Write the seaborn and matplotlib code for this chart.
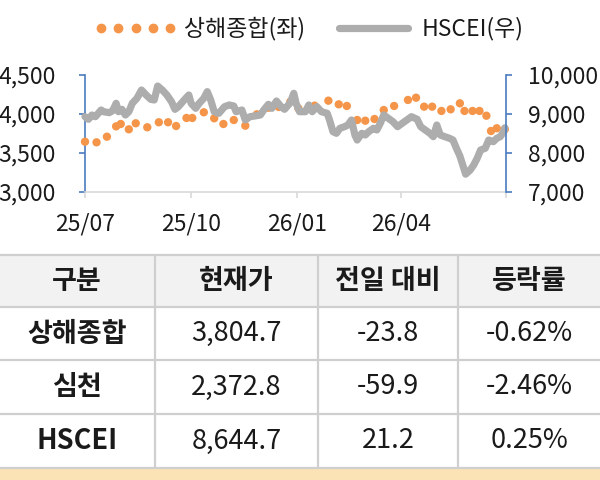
import pandas as pd
import matplotlib.pyplot as plt
import seaborn as sns
from matplotlib.lines import Line2D

# Shanghai Composite (left axis), sampled points
sh_dates = ['2025-07-01', '2025-07-11', '2025-07-20', '2025-07-28', '2025-08-01', '2025-08-08',
            '2025-08-14', '2025-08-24', '2025-09-03', '2025-09-11', '2025-09-18', '2025-09-27',
            '2025-10-02', '2025-10-12', '2025-10-21', '2025-10-29', '2025-11-07', '2025-11-17',
            '2025-11-27', '2025-12-07', '2025-12-16', '2025-12-26', '2026-01-02', '2026-01-16',
            '2026-01-28', '2026-02-06', '2026-02-13', '2026-02-22', '2026-03-01', '2026-03-09',
            '2026-03-17', '2026-03-26', '2026-04-07', '2026-04-14', '2026-04-21', '2026-04-28',
            '2026-05-06', '2026-05-14', '2026-05-22', '2026-05-26', '2026-06-02', '2026-06-08',
            '2026-06-14', '2026-06-18', '2026-06-23', '2026-06-30']
sh_values = [3645, 3637, 3709, 3842, 3872, 3804,
             3881, 3830, 3894, 3894, 3846, 3949,
             3949, 4022, 3945, 3872, 3923, 3850,
             3996, 4080, 4090, 4158, 4073, 4107,
             4171, 4124, 4103, 3923, 3914, 3936,
             4051, 4103, 4180, 4209, 4094, 4094,
             4039, 4060, 4137, 4039, 4039, 4039,
             3978, 3782, 3817, 3805]

# HSCEI (right axis)
hs_dates = ['2025-07-01', '2025-07-04', '2025-07-07', '2025-07-10', '2025-07-15', '2025-07-17',
            '2025-07-22', '2025-07-25', '2025-07-28', '2025-07-30', '2025-08-02', '2025-08-05',
            '2025-08-08', '2025-08-11', '2025-08-15', '2025-08-19', '2025-08-23', '2025-08-27',
            '2025-08-30', '2025-09-02', '2025-09-06', '2025-09-10', '2025-09-14', '2025-09-17',
            '2025-09-20', '2025-09-25', '2025-09-29', '2025-10-01', '2025-10-05', '2025-10-08',
            '2025-10-12', '2025-10-15', '2025-10-18', '2025-10-21', '2025-10-25', '2025-10-30',
            '2025-11-03', '2025-11-07', '2025-11-09', '2025-11-14', '2025-11-17', '2025-11-21',
            '2025-11-25', '2025-11-30', '2025-12-03', '2025-12-07', '2025-12-10', '2025-12-14',
            '2025-12-18', '2025-12-21', '2025-12-26', '2025-12-29', '2025-12-31', '2026-01-03',
            '2026-01-08', '2026-01-11', '2026-01-14', '2026-01-18', '2026-01-22', '2026-01-27',
            '2026-01-29', '2026-02-01', '2026-02-04', '2026-02-07', '2026-02-11', '2026-02-14',
            '2026-02-17', '2026-02-20', '2026-02-22', '2026-02-26', '2026-03-01', '2026-03-04',
            '2026-03-08', '2026-03-11', '2026-03-14', '2026-03-17', '2026-03-21', '2026-03-25',
            '2026-03-29', '2026-04-02', '2026-04-06', '2026-04-10', '2026-04-15', '2026-04-18',
            '2026-04-22', '2026-04-26', '2026-04-29', '2026-05-02', '2026-05-05', '2026-05-09',
            '2026-05-13', '2026-05-16', '2026-05-19', '2026-05-22', '2026-05-25', '2026-05-27',
            '2026-05-31', '2026-06-03', '2026-06-06', '2026-06-09', '2026-06-13', '2026-06-16',
            '2026-06-20', '2026-06-23', '2026-06-26', '2026-06-29', '2026-06-30']
hs_values = [8931, 8864, 8974, 8931, 9103, 9059,
             9034, 9085, 9274, 9059, 9120, 8974,
             9059, 9274, 9402, 9615, 9487, 9377,
             9359, 9718, 9615, 9487, 9316, 9120,
             9188, 9359, 9487, 9274, 9146, 9274,
             9402, 9573, 9359, 9059, 9017, 9188,
             9231, 9205, 9059, 9103, 8846, 8931,
             8949, 8974, 9103, 9248, 9146, 9333,
             9188, 9120, 9291, 9530, 9274, 9059,
             9059, 9231, 9059, 9188, 9059, 9017,
             8846, 8547, 8505, 8633, 8675, 8718,
             8846, 8462, 8333, 8505, 8462, 8547,
             8633, 8590, 8761, 8974, 8889, 8803,
             8675, 8761, 8846, 8931, 8864, 8675,
             8590, 8505, 8418, 8718, 8462, 8418,
             8377, 8333, 8121, 7923, 7649, 7457,
             7564, 7692, 7864, 8077, 8121, 8333,
             8291, 8377, 8418, 8547, 8645]

x_ticks = ['2025-07-01', '2025-10-01', '2026-01-01', '2026-04-01', '2026-07-01']
x_labels = ['25/07', '25/10', '26/01', '26/04', '']
left_ticks = [3000, 3500, 4000, 4500]
right_ticks = [7000, 8000, 9000, 10000]

# table
tbl_header = ['구분', '현재가', '전일 대비', '등락률']
tbl_names = ['상해종합', '심천', 'HSCEI']
tbl_price = ['3,804.7', '2,372.8', '8,644.7']
tbl_change = ['-23.8', '-59.9', '21.2']
tbl_pct = ['-0.62%', '-2.46%', '0.25%']

ORANGE = '#F4954A'
GRAY = '#ADADAD'
BLUE = '#4A7CC0'
TXT = '#1a1a1a'

sns.set_theme(style='white')
plt.rcParams['font.family'] = ['Noto Sans CJK KR', 'DejaVu Sans']

W, H = 600, 480
fig = plt.figure(figsize=(6, 4.8), dpi=100)

def fx(px):
    return px / W

def fy(py):
    return 1 - py / H

ax = fig.add_axes([fx(85), fy(192), (506 - 85) / W, (192 - 75) / H])
ax2 = ax.twinx()

sh = pd.DataFrame({'date': pd.to_datetime(sh_dates), 'value': sh_values})
hs = pd.DataFrame({'date': pd.to_datetime(hs_dates), 'value': hs_values})

sns.scatterplot(data=sh, x='date', y='value', ax=ax, color=ORANGE, s=36,
                edgecolor='none', clip_on=False, zorder=3)
sns.lineplot(data=hs, x='date', y='value', ax=ax2, color=GRAY, linewidth=5.2,
             solid_capstyle='round', solid_joinstyle='round', clip_on=False)

xt = pd.to_datetime(x_ticks)
ax.set_xlim(xt[0], xt[-1])
ax.set_xticks(xt)
ax.set_xticklabels(x_labels)
ax.set_ylim(3000, 4500)
ax.set_yticks(left_ticks)
ax.set_yticklabels([f'{v:,}' for v in left_ticks])
ax2.set_ylim(7000, 10000)
ax2.set_yticks(right_ticks)
ax2.set_yticklabels([f'{v:,}' for v in right_ticks])
for a in (ax, ax2):
    a.set_xlabel('')
    a.set_ylabel('')
    a.patch.set_alpha(0)
    for s in a.spines.values():
        s.set_visible(False)

ax.spines['left'].set_visible(True)
ax.spines['left'].set_color(BLUE)
ax.spines['left'].set_linewidth(1.2)
ax.spines['bottom'].set_visible(True)
ax.spines['bottom'].set_color('#D9D9D9')
ax.spines['bottom'].set_linewidth(1.2)
ax2.spines['right'].set_visible(True)
ax2.spines['right'].set_color(BLUE)
ax2.spines['right'].set_linewidth(1.2)

ax.tick_params(axis='y', which='major', direction='out', length=4, width=1.2,
               color=BLUE, left=True, labelsize=16.5, labelcolor=TXT, pad=17)
ax.tick_params(axis='x', which='major', direction='out', length=4, width=1.2,
               color='#D9D9D9', bottom=True, labelsize=16.5, labelcolor=TXT, pad=11)
ax2.tick_params(axis='y', which='major', direction='out', length=4, width=1.2,
                color=BLUE, right=True, labelsize=16.5, labelcolor=TXT, pad=12)

handles = [Line2D([], [], linestyle='none', marker='o', markersize=6, color=ORANGE),
           Line2D([], [], color=GRAY, linewidth=5.2, solid_capstyle='round')]
fig.legend(handles, ['상해종합(좌)', 'HSCEI(우)'], loc='center', ncol=2,
           bbox_to_anchor=(fx(309), fy(29)), frameon=False, fontsize=16.5,
           numpoints=5, handlelength=3.6, handletextpad=0.3, columnspacing=1.2,
           labelcolor=TXT)

# table
tax = fig.add_axes([0, 0, 1, 1])
tax.set_xlim(0, W)
tax.set_ylim(H, 0)
tax.axis('off')
tax.patch.set_alpha(0)

col_edges = [0, 155, 318, 458, 600]
row_edges = [255, 307, 360, 414, 468]
line_c = '#CFCFCF'

tax.fill_between([0, W], 255, 307, color='#F2F2F2', lw=0)
tax.fill_between([0, W], 468, 480, color='#FBE3B6', lw=0)
for r in row_edges:
    tax.plot([0, W], [r, r], color=line_c, lw=1.6, solid_capstyle='butt')
for c in col_edges[1:-1]:
    tax.plot([c, c], [255, 468], color=line_c, lw=1.6, solid_capstyle='butt')

centers_x = [(col_edges[i] + col_edges[i + 1]) / 2 for i in range(4)]
centers_x[0] = 77
centers_y = [(row_edges[i] + row_edges[i + 1]) / 2 for i in range(4)]

for cx, t in zip(centers_x, tbl_header):
    tax.text(cx, centers_y[0], t, ha='center', va='center', fontsize=19.5,
             fontweight='bold', color=TXT)
for i in range(3):
    cy = centers_y[i + 1]
    vals = [tbl_names[i], tbl_price[i], tbl_change[i], tbl_pct[i]]
    for j, (cx, t) in enumerate(zip(centers_x, vals)):
        tax.text(cx, cy, t, ha='center', va='center', fontsize=19.5,
                 fontweight='bold' if j == 0 else 'normal', color=TXT)

fig.savefig('out.png', dpi=100)
